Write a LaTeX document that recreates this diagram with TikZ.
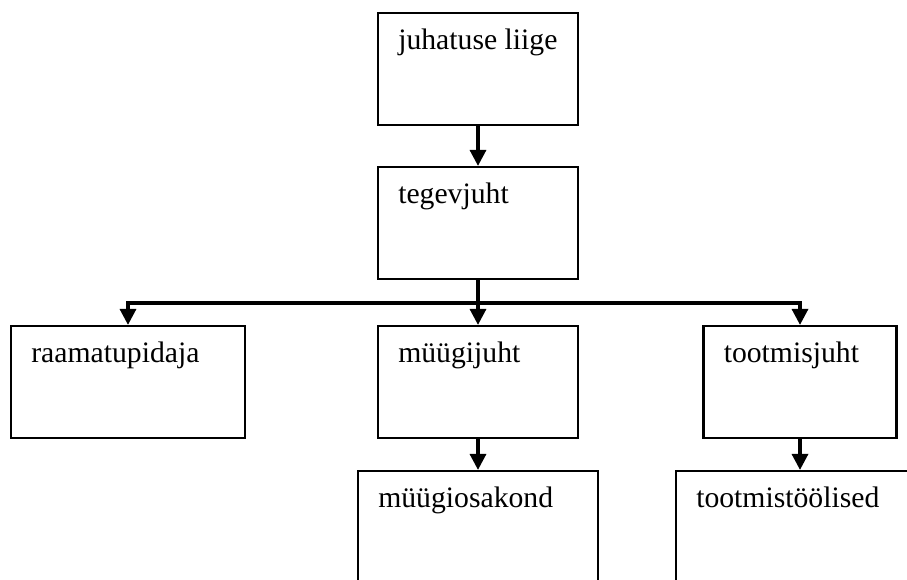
\documentclass[tikz,border=0pt]{standalone}
\usepackage{fontspec}
\setmainfont{Liberation Serif}
\usetikzlibrary{calc, arrows.meta}
\newcommand{\tx}{21}
\newcommand{\ty}{38}

\tikzset{
    orgbox/.style={draw, line width=1.25pt, minimum width=4cm, minimum height=2.24cm, inner sep=0pt},
    boxtext/.style={anchor=base west, inner sep=0pt, font=\fontsize{16.9}{20}\selectfont},
    conn/.style={line width=1.9pt, -{Triangle[length=0.32cm, width=0.32cm]}}
}

\begin{document}
\begin{tikzpicture}[x=0.02cm, y=-0.02cm]

        \clip (0, 0) rectangle (907, 579);
        \useasboundingbox (0, 0) rectangle (907, 579);

        % boxes
        \node[orgbox] (jl) at (478, 69) {};
        \node[orgbox] (tj) at (478, 223) {};
        \node[orgbox, minimum width=4.68cm] (rp) at (128, 382) {};
        \node[orgbox] (mj) at (478, 382) {};
        \node[orgbox, minimum width=3.86cm] (tm) at (800, 382) {};
        \node[orgbox, minimum width=4.8cm] (mo) at (478, 527) {};
        \node[orgbox, minimum width=4.8cm] (tt) at (796, 527) {};

        % texts
        \node[boxtext] (jl-txt) at ($(jl.north west) + (\tx, \ty)$) {juhatuse liige};
        \node[boxtext] (tj-txt) at ($(tj.north west) + (\tx, \ty)$) {tegevjuht};
        \node[boxtext] (rp-txt) at ($(rp.north west) + (\tx, \ty)$) {raamatupidaja};
        \node[boxtext] (mj-txt) at ($(mj.north west) + (\tx, \ty)$) {müügijuht};
        \node[boxtext] (tm-txt) at ($(tm.north west) + (\tx, \ty)$) {tootmisjuht};
        \node[boxtext] (mo-txt) at ($(mo.north west) + (\tx, \ty)$) {müügiosakond};
        \node[boxtext] (tt-txt) at ($(tt.north west) + (\tx, \ty)$) {tootmistöölised};

        % connectors
        \coordinate (bus) at (478, 303);
        \draw[conn] (jl.south) -- (tj.north);
        \draw[conn] (tj.south) -- (mj.north);
        \draw[conn] (bus) -| (rp.north);
        \draw[conn] (bus) -| (tm.north);
        \draw[conn] (mj.south) -- (mo.north);
        \draw[conn] (tm.south) -- (tm.south |- tt.north);

    \end{tikzpicture}
\end{document}
